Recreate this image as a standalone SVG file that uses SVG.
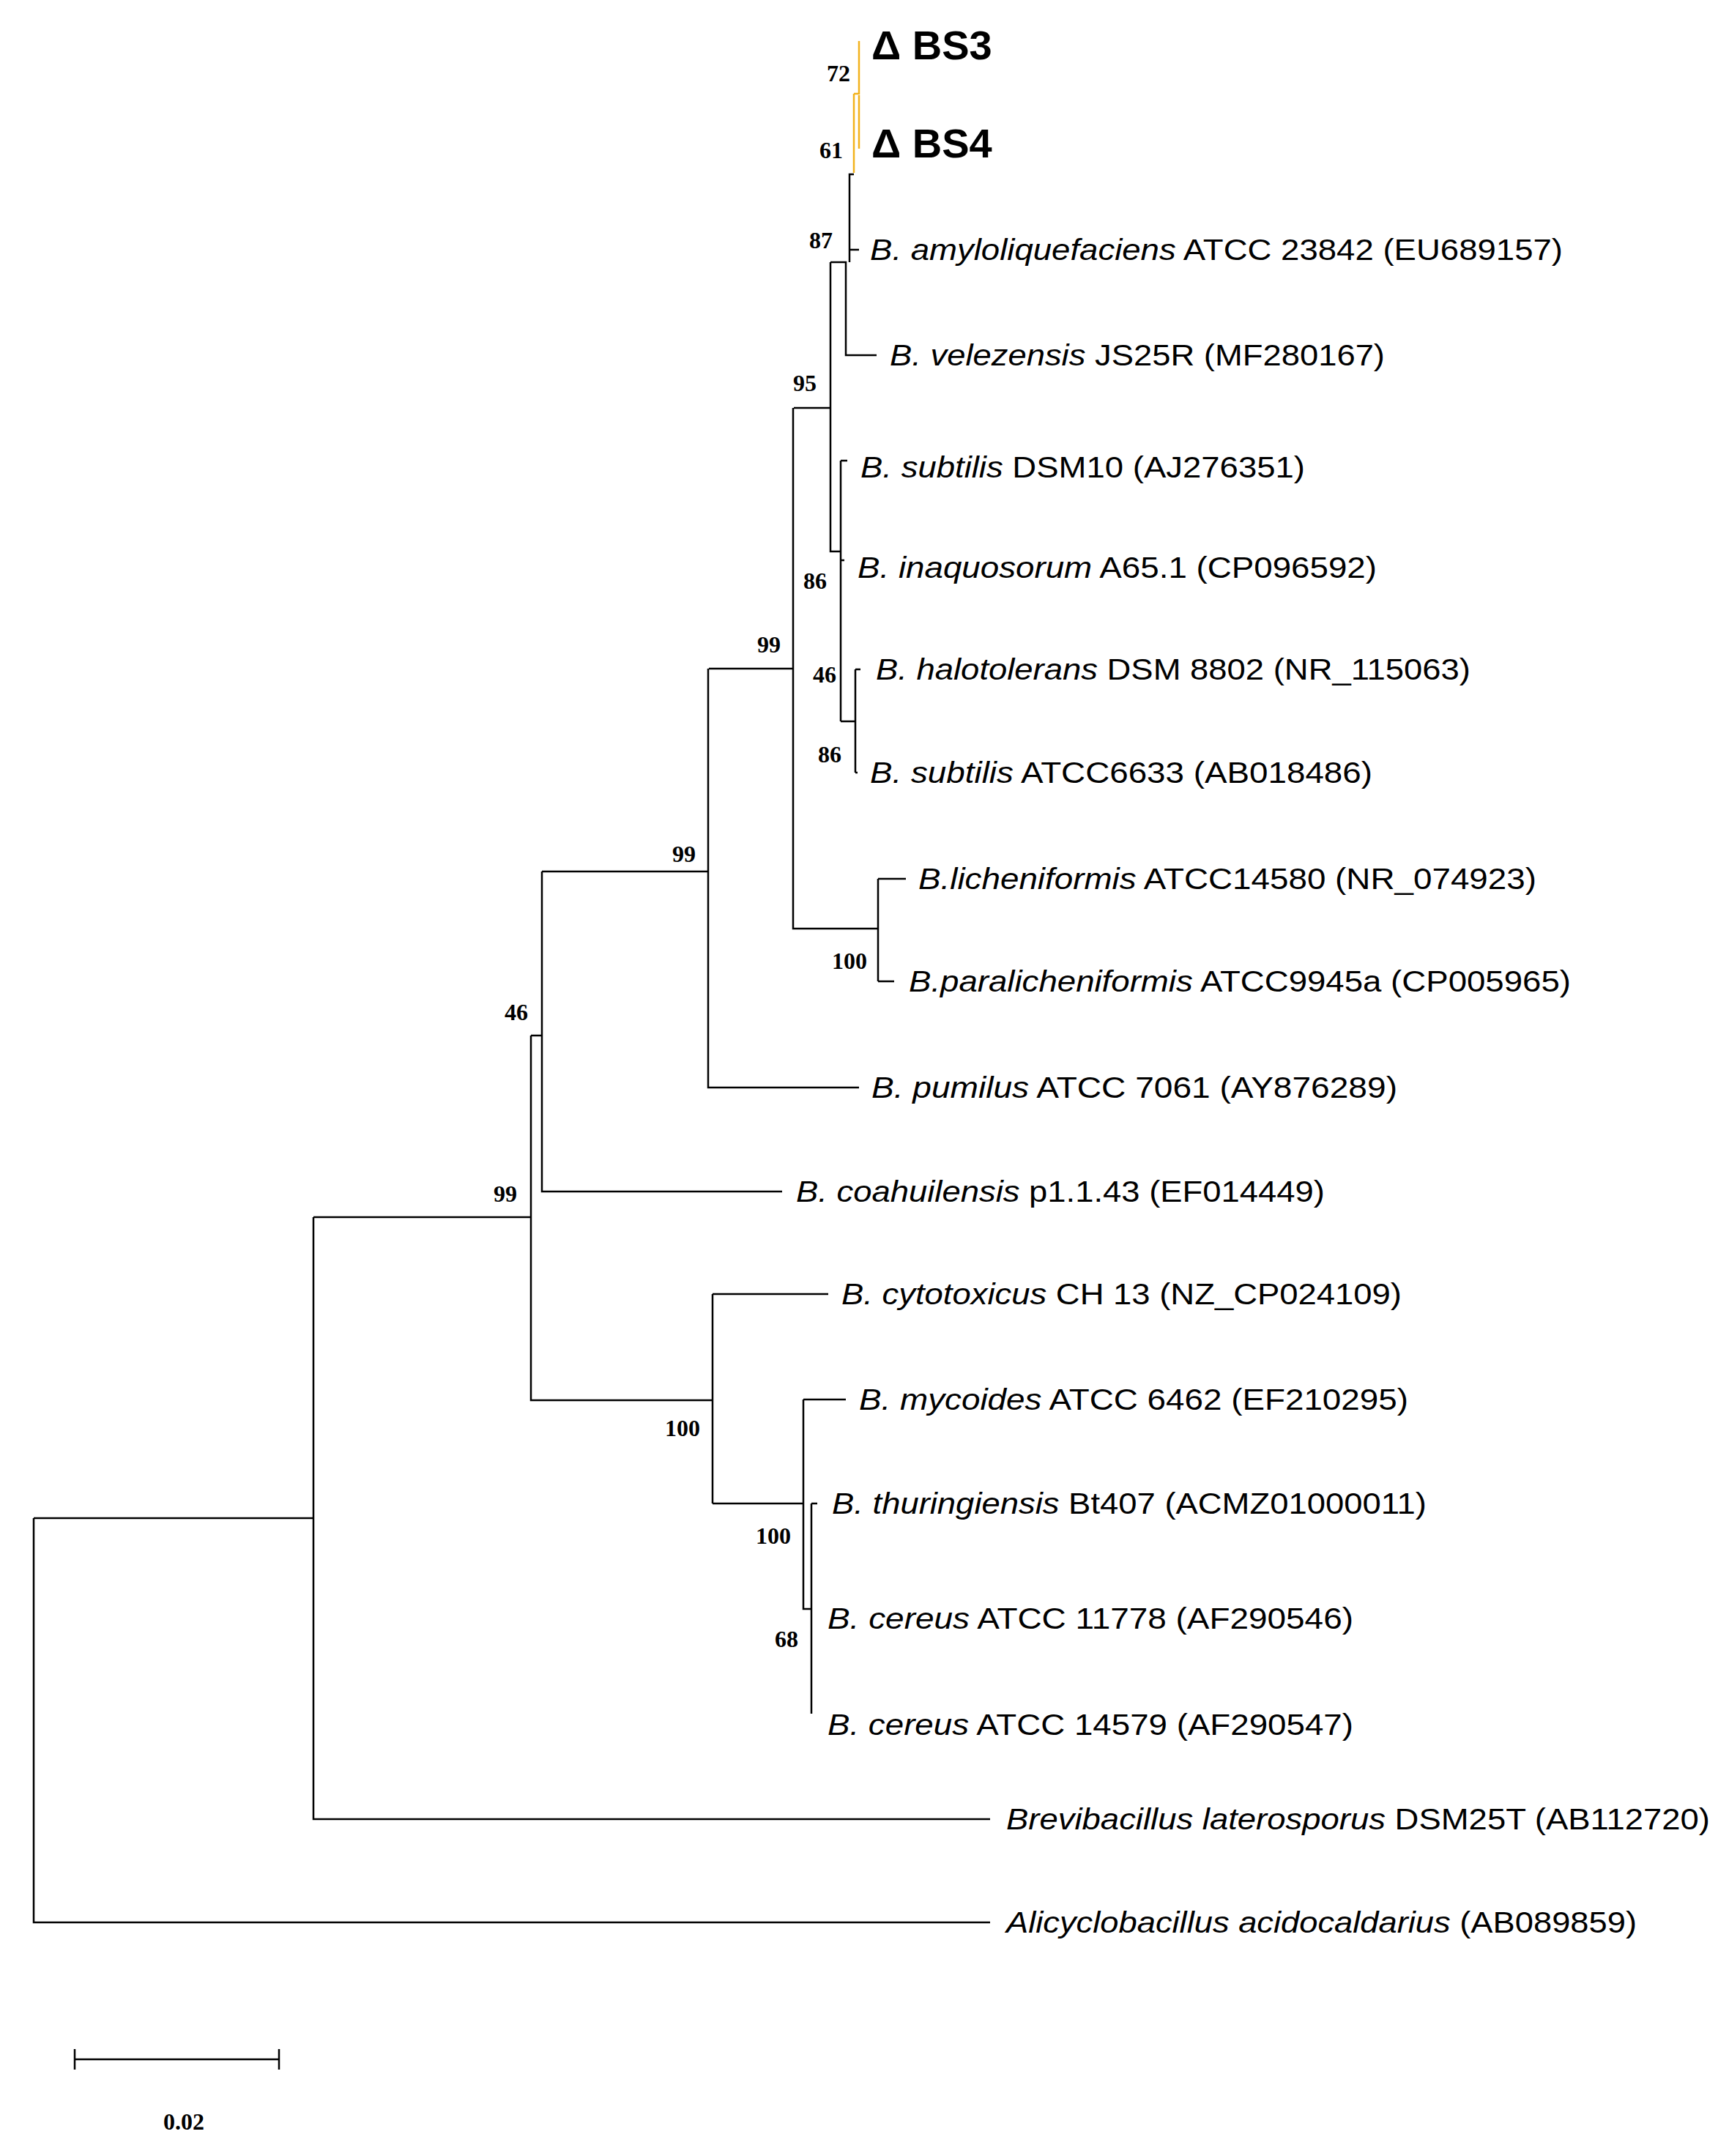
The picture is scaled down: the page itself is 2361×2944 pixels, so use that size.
<svg xmlns="http://www.w3.org/2000/svg" width="2361" height="2944" viewBox="0 0 2361 2944">
<style>
.br{stroke:#000;stroke-width:2.5;fill:none}
.y{stroke:#f2b21c;stroke-width:2.5;fill:none}
.t{font-family:"Liberation Sans",Arial,sans-serif;font-size:41px;fill:#000}
.i{font-style:italic}
.s{font-family:"Liberation Serif","Times New Roman",serif;font-weight:bold;font-size:32px;fill:#000;text-anchor:middle}
.d{font-family:"Liberation Sans",Arial,sans-serif;font-weight:bold;font-size:56px;fill:#000}
</style>
<rect width="2361" height="2944" fill="#fff"/>
<g id="connectors">
<path class="y" d="M1173 56V128H1166M1166 128V236M1173 130V203"/>
<path class="br" d="M1166 238H1160V341H1173M1160 341V358M1134 358H1155V485H1197M1155 358V358"/>
<path class="br" d="M1134 358V753H1148M1084 557H1134"/>
<path class="br" d="M1148 629H1157M1148 629V985M1148 765H1153M1148 985H1168M1168 914V1055M1168 914H1175M1168 1055H1171"/>
<path class="br" d="M1083 557V1268H1199M968 913H1083M1199 1200V1340M1199 1200H1237M1199 1340H1221"/>
<path class="br" d="M967 913V1485H1173M740 1190H967M740 1190V1627H1068M740 1414H725"/>
<path class="br" d="M725 1414V1912H973M428 1662H725"/>
<path class="br" d="M973 1767V2053M973 1767H1131M973 2053H1097M1097 1911V2197H1108M1097 1911H1155M1108 2053V2340M1108 2053H1116"/>
<path class="br" d="M428 1662V2484H1352M46 2073H428M46 2073V2625H1352"/>
<path class="br" d="M102 2812H381M102 2798V2826M381 2798V2826"/>
</g>
<g id="support">
<text class="s" x="1145" y="111">72</text>
<text class="s" x="1135" y="216">61</text>
<text class="s" x="1121" y="339">87</text>
<text class="s" x="1099" y="534">95</text>
<text class="s" x="1050" y="891">99</text>
<text class="s" x="1113" y="804">86</text>
<text class="s" x="1126" y="932">46</text>
<text class="s" x="1133" y="1041">86</text>
<text class="s" x="1160" y="1323">100</text>
<text class="s" x="934" y="1177">99</text>
<text class="s" x="705" y="1393">46</text>
<text class="s" x="690" y="1641">99</text>
<text class="s" x="932" y="1961">100</text>
<text class="s" x="1056" y="2108">100</text>
<text class="s" x="1074" y="2249">68</text>
</g>
<g id="BS3"><text class="d" x="1190" y="81">Δ BS3</text></g>
<g id="BS4"><text class="d" x="1190" y="215">Δ BS4</text></g>
<g id="amylo"><text class="t" x="1188" y="355" textLength="946" lengthAdjust="spacingAndGlyphs"><tspan class="i">B. amyloliquefaciens</tspan> ATCC 23842 (EU689157)</text></g>
<g id="velez"><text class="t" x="1215" y="499" textLength="676" lengthAdjust="spacingAndGlyphs"><tspan class="i">B. velezensis</tspan> JS25R (MF280167)</text></g>
<g id="dsm10"><text class="t" x="1175" y="652" textLength="607" lengthAdjust="spacingAndGlyphs"><tspan class="i">B. subtilis</tspan> DSM10 (AJ276351)</text></g>
<g id="inaq"><text class="t" x="1171" y="789" textLength="709" lengthAdjust="spacingAndGlyphs"><tspan class="i">B. inaquosorum</tspan> A65.1 (CP096592)</text></g>
<g id="halo"><text class="t" x="1196" y="928" textLength="812" lengthAdjust="spacingAndGlyphs"><tspan class="i">B. halotolerans</tspan> DSM 8802 (NR_115063)</text></g>
<g id="atcc6633"><text class="t" x="1188" y="1069" textLength="686" lengthAdjust="spacingAndGlyphs"><tspan class="i">B. subtilis</tspan> ATCC6633 (AB018486)</text></g>
<g id="lich"><text class="t" x="1254" y="1214" textLength="844" lengthAdjust="spacingAndGlyphs"><tspan class="i">B.licheniformis</tspan> ATCC14580 (NR_074923)</text></g>
<g id="paralich"><text class="t" x="1241" y="1354" textLength="904" lengthAdjust="spacingAndGlyphs"><tspan class="i">B.paralicheniformis</tspan> ATCC9945a (CP005965)</text></g>
<g id="pumilus"><text class="t" x="1190" y="1499" textLength="718" lengthAdjust="spacingAndGlyphs"><tspan class="i">B. pumilus</tspan> ATCC 7061 (AY876289)</text></g>
<g id="coah"><text class="t" x="1087" y="1641" textLength="722" lengthAdjust="spacingAndGlyphs"><tspan class="i">B. coahuilensis</tspan> p1.1.43 (EF014449)</text></g>
<g id="cyto"><text class="t" x="1149" y="1781" textLength="765" lengthAdjust="spacingAndGlyphs"><tspan class="i">B. cytotoxicus</tspan> CH 13 (NZ_CP024109)</text></g>
<g id="myco"><text class="t" x="1173" y="1925" textLength="750" lengthAdjust="spacingAndGlyphs"><tspan class="i">B. mycoides</tspan> ATCC 6462 (EF210295)</text></g>
<g id="thur"><text class="t" x="1136" y="2067" textLength="812" lengthAdjust="spacingAndGlyphs"><tspan class="i">B. thuringiensis</tspan> Bt407 (ACMZ01000011)</text></g>
<g id="cer11778"><text class="t" x="1130" y="2224" textLength="718" lengthAdjust="spacingAndGlyphs"><tspan class="i">B. cereus</tspan> ATCC 11778 (AF290546)</text></g>
<g id="cer14579"><text class="t" x="1130" y="2369" textLength="718" lengthAdjust="spacingAndGlyphs"><tspan class="i">B. cereus</tspan> ATCC 14579 (AF290547)</text></g>
<g id="brevi"><text class="t" x="1374" y="2498" textLength="961" lengthAdjust="spacingAndGlyphs"><tspan class="i">Brevibacillus laterosporus</tspan> DSM25T (AB112720)</text></g>
<g id="alicy"><text class="t" x="1374" y="2639" textLength="861" lengthAdjust="spacingAndGlyphs"><tspan class="i">Alicyclobacillus acidocaldarius</tspan> (AB089859)</text></g>
<g id="scale"><text class="s" x="251" y="2908">0.02</text></g>
</svg>
